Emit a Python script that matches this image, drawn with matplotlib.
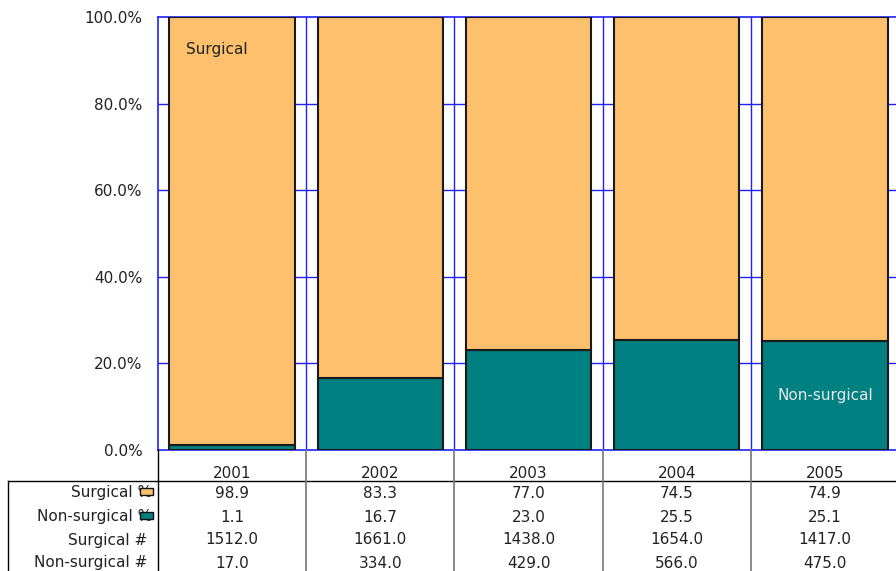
import matplotlib.pyplot as plt
from matplotlib.patches import Rectangle
from matplotlib.lines import Line2D
from matplotlib.transforms import blended_transform_factory

years = ['2001', '2002', '2003', '2004', '2005']
surgical_pct = [98.9, 83.3, 77.0, 74.5, 74.9]
nonsurgical_pct = [1.1, 16.7, 23.0, 25.5, 25.1]
surgical_n = [1512.0, 1661.0, 1438.0, 1654.0, 1417.0]
nonsurgical_n = [17.0, 334.0, 429.0, 566.0, 475.0]
row_labels = ['Surgical %', 'Non-surgical %', 'Surgical #', 'Non-surgical #']

ORANGE = '#FDC06D'
TEAL = '#008080'
BLUE = '#2020FF'
W, H = 896, 571
FS = 11

plt.rcParams['font.family'] = ['DejaVu Sans']

fig = plt.figure(figsize=(W / 100, H / 100), dpi=100)
# axes runs a bit past the right edge, like the original clipped export
ax = fig.add_axes([158 / W, (H - 450) / H, (899 - 158) / W, (450 - 17) / H])

x = range(len(years))
ax.bar(x, nonsurgical_pct, width=0.845, color=TEAL, edgecolor='#1a1a1a', linewidth=1.5, zorder=3)
ax.bar(x, surgical_pct, width=0.845, bottom=nonsurgical_pct, color=ORANGE,
       edgecolor='#1a1a1a', linewidth=1.5, zorder=3)

ax.set_xlim(-0.5, len(years) - 0.5)
ax.set_ylim(0, 100)
ax.set_yticks([0, 20, 40, 60, 80, 100])
ax.set_yticklabels([f'{v:.1f}%' for v in [0, 20, 40, 60, 80, 100]], fontsize=FS, color='#222222')
ax.set_xticks([])
ax.tick_params(axis='y', length=0, pad=11)
for y in [20, 40, 60, 80]:
    ax.axhline(y, color=BLUE, lw=1, zorder=1)
for i in range(1, len(years) + 1):
    ax.axvline(i - 0.5, color=BLUE, lw=1, zorder=1)
for s in ax.spines.values():
    s.set_color(BLUE)
    s.set_linewidth(1.2)

ax.text(-0.31, 92.4, 'Surgical', fontsize=FS, color='#222222', ha='left', va='center', zorder=4)
ax.text(4, 12.5, 'Non-surgical', fontsize=FS, color='#e8e8e8', ha='center', va='center', zorder=4)

# data table underneath
tr = blended_transform_factory(ax.transData, fig.transFigure)
fy = lambda py: (H - py) / H
fx = lambda px: px / W

for i, yr in enumerate(years):
    fig.text(i, fy(473), yr, transform=tr, ha='center', va='center', fontsize=FS, color='#222222')

rows = [surgical_pct, nonsurgical_pct, surgical_n, nonsurgical_n]
row_y = [493, 517, 540, 563]
for lab, vals, py in zip(row_labels, rows, row_y):
    right = 152 if '%' in lab else 147
    fig.text(fx(right), fy(py), lab, ha='right', va='center', fontsize=FS, color='#222222')
    for i, v in enumerate(vals):
        fig.text(i, fy(py), f'{v:.1f}', transform=tr, ha='center', va='center',
                 fontsize=FS, color='#222222')

# legend keys in the row labels
for py, c in [(491, ORANGE), (515, TEAL)]:
    fig.add_artist(Rectangle((fx(140), fy(py + 4)), 13 / W, 7 / H, transform=fig.transFigure,
                             facecolor=c, edgecolor='#111111', lw=1, zorder=5))

# table lines
fig.add_artist(Line2D([fx(8), 1], [fy(481), fy(481)], transform=fig.transFigure, color='black', lw=1))
fig.add_artist(Line2D([fx(8), fx(8)], [fy(481), 0], transform=fig.transFigure, color='black', lw=1))
fig.add_artist(Line2D([fx(158), fx(158)], [fy(450), 0], transform=fig.transFigure, color='black', lw=1))
for i in range(1, len(years)):
    fig.add_artist(Line2D([i - 0.5, i - 0.5], [fy(450), 0], transform=tr, color='#777777', lw=1.2))

fig.savefig('out.png', dpi=100)
